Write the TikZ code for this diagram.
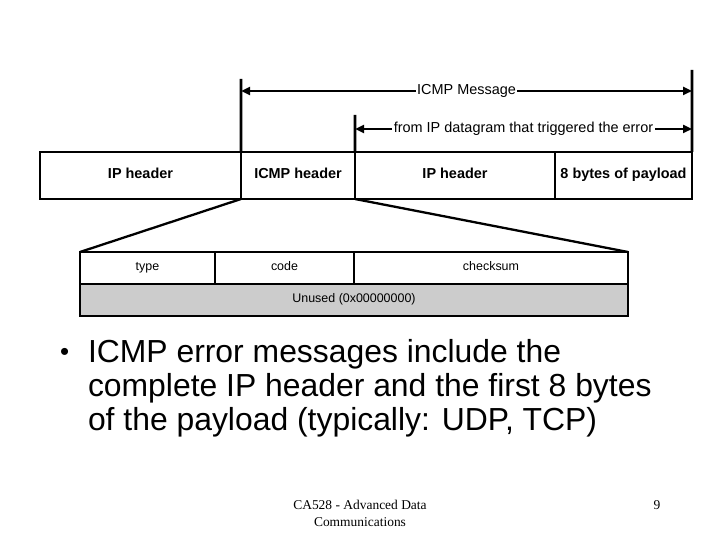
\documentclass[tikz,border=0pt]{standalone}
\usepackage{fontspec}
\setmainfont{Liberation Sans}
\newfontfamily\footfont{Liberation Serif}
\usetikzlibrary{positioning,arrows.meta}

\begin{document}
\begin{tikzpicture}[
  x=1bp, y=-1bp,
  every node/.style={inner sep=0pt, outer sep=0pt},
  field/.style={draw, line width=2.8bp, minimum height=47bp, text height=0.72em, text depth=0.2em, font=\fontsize{14.5}{15}\selectfont\bfseries},
  subfield/.style={draw, line width=2.3bp, minimum height=32bp, text height=0.72em, text depth=0.2em, font=\fontsize{12.5}{13}\selectfont},
  span/.style={line width=2.8bp, {Triangle[length=9bp,width=8bp]}-{Triangle[length=9bp,width=8bp]}},
  spanlabel/.style={fill=white, inner xsep=1.5bp, inner ysep=1bp, font=\fontsize{14.5}{15}\selectfont}
]
\useasboundingbox (0,0) rectangle (720,540);

\node[field, minimum width=201bp, anchor=north west] (iphdr) at (40,152) {IP header};
\node[field, minimum width=114bp, right=0pt of iphdr] (icmphdr) {ICMP header};
\node[field, minimum width=200bp, right=0pt of icmphdr] (orighdr) {IP header};
\node[field, minimum width=137bp, right=0pt of orighdr] (payload) {8 bytes of payload};

\node[subfield, minimum width=135bp, anchor=north west] (type) at (80,252) {type};
\node[subfield, minimum width=139bp, right=0pt of type] (code) {code};
\node[subfield, minimum width=274bp, right=0pt of code] (checksum) {checksum};
\node[subfield, fill=gray!40, minimum width=548bp, anchor=north west] (unused) at (type.south west) {Unused (0x00000000)};

% extent markers above the datagram
\coordinate (msgtop) at (241,79);
\coordinate (origtop) at (355,115);
\coordinate (endtop) at (692,70);
\coordinate (msgL) at (241,91);
\coordinate (msgR) at (692,91);
\coordinate (origL) at (355,129);
\coordinate (origR) at (692,129);

\draw[line width=2.8bp] (icmphdr.north west) -- (msgtop);
\draw[line width=2.8bp] (orighdr.north west) -- (origtop);
\draw[line width=2.8bp] (payload.north east) -- (endtop);
\draw[span] (msgL) -- node[spanlabel] {ICMP Message} (msgR);
\draw[span] (origL) -- node[spanlabel] {from IP datagram that triggered the error} (origR);

% zoom lines
\draw[line width=2.3bp] (icmphdr.south west) -- (type.north west);
\draw[line width=2.3bp] (orighdr.south west) -- (checksum.north east);

\node[anchor=base west, font=\fontsize{26}{34}\selectfont] (bullet) at (60,360) {•};
\node[anchor=base west, align=left, font=\fontsize{32}{34}\selectfont] (point) at (88,430)
  {ICMP error messages include the\\complete IP header and the first 8 bytes\\of the payload (typically: UDP, TCP)};

\node[align=center, font=\footfont\fontsize{13.5}{17}\selectfont] (footer) at (360,513) {CA528 - Advanced Data\\Communications};
\node[anchor=base, font=\footfont\fontsize{13.5}{17}\selectfont] (pagenum) at (657,509) {9};
\end{tikzpicture}
\end{document}
